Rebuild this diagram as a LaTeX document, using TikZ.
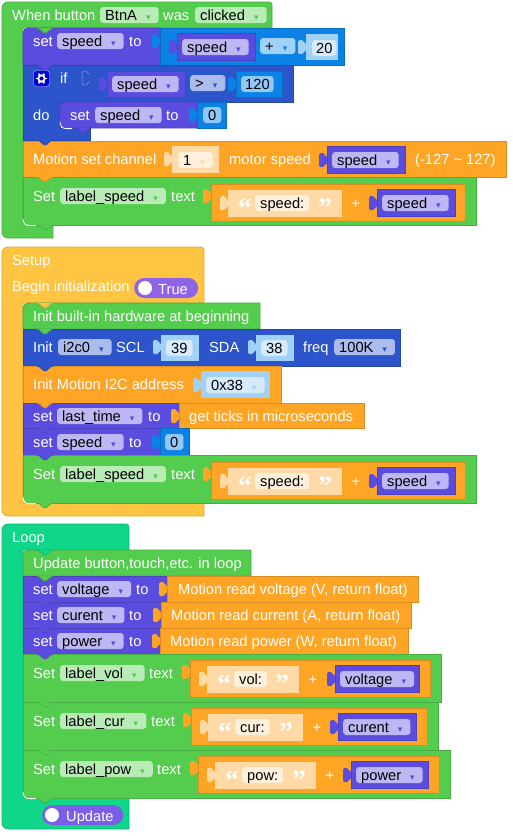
\documentclass[tikz,border=0pt]{standalone}
\usepackage{fontspec}
\setmainfont{Liberation Sans}
\newfontfamily\ddfont{DejaVu Sans}
\newfontfamily\qtfont{Liberation Serif}
\usepackage{tikz}
\definecolor{cgreen}{HTML}{54CC4E}
\definecolor{cpurple}{HTML}{5B4CE0}
\definecolor{cnavy}{HTML}{2C55CC}
\definecolor{cblue}{HTML}{0A82E6}
\definecolor{corange}{HTML}{FFA526}
\definecolor{cyellow}{HTML}{FFC542}
\definecolor{cteal}{HTML}{10D68A}
\definecolor{ctrue}{HTML}{8F63E5}
\definecolor{cupd}{HTML}{7B5EE8}
\definecolor{lgreen}{HTML}{B9EBB7}
\definecolor{lpurple}{HTML}{BDB7F3}
\definecolor{lnavy}{HTML}{ABBBEB}
\definecolor{lblue}{HTML}{A0D2F8}
\definecolor{pblue}{HTML}{D6EAFC}
\definecolor{mblue}{HTML}{90C8F8}
\definecolor{lorange}{HTML}{FFD9A6}
\definecolor{porange}{HTML}{FFF0DC}
% dropdown arrow inside a field
\newcommand{\dda}[1]{\kern9pt{\color{#1}\ddfont\fontsize{9}{9}\selectfont\symbol{"25BE}}\kern3pt}
% left tab of a value block: x, y, colour
\newcommand{\ptab}[3]{\fill[#3,rounded corners=1.5pt] (#1+.5,#2-4) -- (#1-2.5,#2-4) -- (#1-2.5,#2-7) -- (#1-8,#2-7) -- (#1-8,#2+7) -- (#1-2.5,#2+7) -- (#1-2.5,#2+4) -- (#1+.5,#2+4) -- cycle;}
% bump under a stack block: x centre, y, colour
\newcommand{\ntch}[3]{\draw[fill=#3,draw=#3!85!black,line width=.6pt] (#1-8,#2) .. controls (#1-4,#2+.5) and (#1-3,#2+5) .. (#1,#2+5) .. controls (#1+3,#2+5) and (#1+4,#2+.5) .. (#1+8,#2);}
% C shaped hat block: colour, x1, y0, y1, y2, x2, y3
\newcommand{\hatblk}[7]{\draw[blk=#1] (10,#7) [rounded corners=6pt] -- (2,#7) -- (2,#3) [rounded corners=3pt] -- (#2,#3) [sharp corners] -- (#2,#4) -- (23,#4) -- (23,#5) -- (#6,#5) -- (#6,#7) -- cycle;}
% stack block with a round top left corner: colour, x2, y1, y2
\newcommand{\topblk}[4]{\draw[blk=#1] (23,#4) [rounded corners=5pt] -- (23,#3) [sharp corners] -- (#2,#3) -- (#2,#4) -- cycle;}
% green Set row: y, x right, label, x of the word text
\newcommand{\setrow}[4]{
  \draw[blk=cgreen] (23,#1) rectangle (#2,#1+48);
  \node[lbl] (st#1) at (33,#1+19) {Set};
  \node[fld=lgreen] (lb#1) at (60,#1+19) {#3\dda{cgreen}};
  \node[lbl] (tx#1) at (#4,#1+19) {text};
}
% round lower left corner of the last row in a stack: y, hat colour
\newcommand{\rowend}[2]{
  \fill[#2] (22.6,#1-6) -- (22.6,#1+.5) -- (29,#1+.5) .. controls (25.5,#1+.5) and (22.6,#1-2.5) .. cycle;
  \draw[white,line width=.8pt] (23,#1-6) .. controls (23,#1-2) and (25.5,#1+.6) .. (29,#1+.6) -- (36,#1+.6);
}
% joined text value: y, orange x1, x2, light x2, field x, string, purple x1, x2, variable
\newcommand{\strjoin}[9]{
  \ptab{#2}{#1-7}{corange}
  \draw[blk=corange] (#2,#1-18.5) rectangle (#3,#1+18.5);
  \ptab{#2+17}{#1}{lorange}
  \fill[lorange] (#2+17,#1-13.5) rectangle (#4,#1+13.5);
  \node[qt] (ql#1) at (#2+27,#1) {“};
  \node[fld=porange] (sv#1) at (#5,#1) {#6};
  \node[qt] (qr#1) at (#4-24,#1) {”};
  \node[lblc] (pl#1) at (#4+14,#1) {+};
  \ptab{#7}{#1}{cpurple}
  \draw[blk=cpurple] (#7,#1-13.5) rectangle (#8,#1+13.5);
  \node[fld=lpurple] (vr#1) at (#7+5,#1) {#9\dda{cpurple}};
}
\begin{document}
\begin{tikzpicture}[
  x=1pt,y=-1pt,
  every node/.style={font=\fontsize{14.67}{16}\selectfont},
  blk/.style={fill=#1,draw=#1!85!black,line width=.7pt},
  lbl/.style={anchor=base west,inner sep=0pt,text=white,yshift=-5pt},
  lblc/.style={anchor=base,inner sep=0pt,text=white,yshift=-5pt},
  fld/.style={anchor=base west,fill=#1,rounded corners=3pt,text=black,inner xsep=5pt,inner ysep=0pt,text height=13pt,text depth=3pt,yshift=-5pt},
  qt/.style={anchor=base west,inner sep=0pt,text=white,yshift=-14pt,font=\qtfont\bfseries\fontsize{28}{28}\selectfont},
  pill/.style={rounded corners=10pt,minimum height=20pt,inner sep=0pt,anchor=west}
]
  \useasboundingbox (0,0) rectangle (512,836);
  % When button
  \hatblk{cgreen}{272}{2}{28}{226}{53}{238}
  \node[lbl] (when) at (12,15) {When button};
  \node[fld=lgreen] (btn) at (100,15) {BtnA\dda{cgreen}};
  \node[lbl] (was) at (163,15) {was};
  \node[fld=lgreen] (clk) at (195,15) {clicked\dda{cgreen}};
  \topblk{cpurple}{160}{28}{65}
  \ntch{45}{28}{cgreen}
  \node[lbl] (set1) at (33,41) {set};
  \node[fld=lpurple] (spd1) at (57,41) {speed\dda{cpurple}};
  \node[lbl] (to1) at (129,41) {to};
  \ptab{160}{41}{cblue}
  \draw[blk=cblue] (160,28) rectangle (344,65);
  \ptab{177}{47}{cpurple}
  \draw[blk=cpurple] (177,33) rectangle (255,60);
  \node[fld=lpurple] (spd2) at (182,47) {speed\dda{cpurple}};
  \node[fld=lblue] (add) at (260,46) {+\dda{cblue}};
  \ptab{306}{47}{lblue}
  \fill[lblue] (306,34) rectangle (338,60);
  \node[fld=pblue,inner xsep=4pt] (num20) at (312,48) {20};
  % if
  \draw[blk=cnavy] (23,65) -- (293,65) -- (293,102) -- (60,102) -- (60,128) -- (90,128) -- (90,140) -- (23,140) -- cycle;
  \ntch{45}{65}{cpurple}
  \node[rounded corners=3pt,fill=blue!85!black,draw=white!80!blue,minimum size=16pt,inner sep=0pt] (gear) at (41.5,78.5) {};
  \draw[white,line width=1.8pt] (gear.center) circle (3.2);
  \foreach \a in {0,60,...,300}
    \draw[white,line width=1.8pt] ([shift={(\a:3)}]gear.center) -- ([shift={(\a:5.5)}]gear.center);
  \node[lbl] (iflb) at (60,78) {if};
  \draw[fill=cnavy,draw=white!40!cnavy,rounded corners=1.5pt,line width=.5pt] (90,74) -- (87.5,74) -- (87.5,71) -- (82,71) -- (82,85) -- (87.5,85) -- (87.5,82) -- (90,82);
  \ptab{107}{84}{cpurple}
  \draw[blk=cpurple] (107,71) rectangle (185,97);
  \node[fld=lpurple] (spd3) at (112,84) {speed\dda{cpurple}};
  \node[fld=lnavy] (gt) at (190,83) {>\dda{cnavy}};
  \ptab{236}{84}{cblue}
  \draw[blk=cblue] (236,71) rectangle (282,97);
  \node[fld=mblue,inner xsep=4pt] (num120) at (241,84) {120};
  \node[lbl] (dolb) at (33,115) {do};
  \draw[blk=cpurple] (197,102) [rounded corners=5pt] -- (60,102) -- (60,128) [sharp corners] -- (197,128) -- cycle;
  \draw[white,line width=.8pt] (60,122) .. controls (60,126) and (62.5,128.6) .. (66,128.6) -- (72,128.6);
  \node[lbl] (set2) at (70,115) {set};
  \node[fld=lpurple] (spd4) at (95,115) {speed\dda{cpurple}};
  \node[lbl] (to2) at (166,115) {to};
  \ptab{197}{115}{cblue}
  \draw[blk=cblue] (197,102) rectangle (226,128);
  \node[fld=mblue,inner xsep=5pt] (num0) at (203,115) {0};
  % motion channel
  \draw[blk=corange] (23,141) rectangle (506,177);
  \ntch{45}{140}{cnavy}
  \ntch{83}{128}{cpurple}
  \node[lbl] (mot) at (33,159) {Motion set channel};
  \ptab{172}{159}{lorange}
  \fill[lorange] (172,146) rectangle (219,173);
  \node[fld=porange] (chn) at (178,160) {1\dda{lorange}};
  \node[lbl] (msp) at (229,159) {motor speed};
  \ptab{327}{160}{cpurple}
  \draw[blk=cpurple] (327,146) rectangle (405,173);
  \node[fld=lpurple] (spd5) at (332,160) {speed\dda{cpurple}};
  \node[lbl] (rng) at (415,159) {(-127 \textasciitilde{} 127)};
  \setrow{177}{476}{label\_speed}{171}
  \ntch{45}{177}{corange}
  \strjoin{203}{211}{465}{342}{255}{speed:}{377}{455}{speed}
  \rowend{225}{cgreen}
  \ntch{45}{225}{cgreen}
  % Setup
  \hatblk{cyellow}{204}{247}{303}{503}{204}{516}
  \node[lbl] (setup) at (12,260) {Setup};
  \node[lbl] (begin) at (12,286) {Begin initialization};
  \node[pill,fill=ctrue,minimum width=64pt] (tgl) at (134,288) {};
  \fill[white] (145,288) circle (7);
  \node[lbl] (tru) at (158,289) {True};
  \topblk{cgreen}{260}{303}{329}
  \ntch{45}{303}{cyellow}
  \node[lbl] (ihw) at (33,316) {Init built-in hardware at beginning};
  \draw[blk=cnavy] (23,329) rectangle (400,366);
  \ntch{45}{329}{cgreen}
  \node[lbl] (ini) at (33,347) {Init};
  \node[fld=lnavy] (i2c) at (58,347) {i2c0\dda{cnavy}};
  \node[lbl] (scl) at (116,347) {SCL};
  \ptab{161}{347}{lblue}
  \fill[lblue] (161,335) rectangle (199,361);
  \node[fld=pblue] (n39) at (166,348) {39};
  \node[lbl] (sda) at (209,347) {SDA};
  \ptab{256}{347}{lblue}
  \fill[lblue] (256,335) rectangle (294,361);
  \node[fld=pblue] (n38) at (261,348) {38};
  \node[lbl] (frq) at (303,347) {freq};
  \node[fld=lnavy] (fq) at (334,347) {100K\dda{cnavy}};
  \draw[blk=corange] (23,366) rectangle (281,403);
  \ntch{45}{366}{cnavy}
  \node[lbl] (imo) at (33,384) {Init Motion I2C address};
  \ptab{201}{385}{lblue}
  \fill[lblue] (201,371) rectangle (270,398);
  \node[fld=pblue] (adr) at (206,385) {0x38\dda{lblue}};
  \draw[blk=cpurple] (23,403) rectangle (179,428);
  \ntch{45}{403}{corange}
  \node[lbl] (set3) at (33,416) {set};
  \node[fld=lpurple] (lst) at (57,416) {last\_time\dda{cpurple}};
  \node[lbl] (to3) at (148,416) {to};
  \ptab{179}{416}{corange}
  \draw[blk=corange] (179,403) rectangle (364,428);
  \node[lbl] (tck) at (189,416) {get ticks in microseconds};
  \draw[blk=cpurple] (23,428) rectangle (160,455);
  \ntch{45}{428}{cpurple}
  \node[lbl] (set4) at (33,442) {set};
  \node[fld=lpurple] (spd6) at (57,442) {speed\dda{cpurple}};
  \node[lbl] (to4) at (129,442) {to};
  \ptab{160}{442}{cblue}
  \draw[blk=cblue] (160,428) rectangle (189,455);
  \node[fld=mblue] (n0) at (165,442) {0};
  \setrow{455}{476}{label\_speed}{171}
  \ntch{45}{455}{cpurple}
  \strjoin{481}{211}{465}{342}{255}{speed:}{377}{455}{speed}
  \rowend{503}{cyellow}
  \ntch{45}{503}{cgreen}
  % Loop
  \hatblk{cteal}{129}{524}{550}{798}{129}{829}
  \node[lbl] (loop) at (12,537) {Loop};
  \topblk{cgreen}{251}{550}{576}
  \ntch{45}{550}{cteal}
  \node[lbl] (upd) at (33,563) {Update button,touch,etc. in loop};
  \draw[blk=cpurple] (23,576) rectangle (167,602);
  \ntch{45}{576}{cgreen}
  \node[lbl] (set5) at (33,589) {set};
  \node[fld=lpurple] (vlt) at (57,589) {voltage\dda{cpurple}};
  \node[lbl] (to5) at (136,589) {to};
  \ptab{167}{589}{corange}
  \draw[blk=corange] (167,576) rectangle (418,602);
  \node[lbl] (rdv) at (178,589) {Motion read voltage (V, return float)};
  \draw[blk=cpurple] (23,602) rectangle (161,628);
  \ntch{45}{602}{cpurple}
  \node[lbl] (set6) at (33,615) {set};
  \node[fld=lpurple] (cur) at (57,615) {curent\dda{cpurple}};
  \node[lbl] (to6) at (129,615) {to};
  \ptab{161}{615}{corange}
  \draw[blk=corange] (161,602) rectangle (411,628);
  \node[lbl] (rdc) at (171,615) {Motion read current (A, return float)};
  \draw[blk=cpurple] (23,628) rectangle (160,654);
  \ntch{45}{628}{cpurple}
  \node[lbl] (set7) at (33,641) {set};
  \node[fld=lpurple] (pow) at (57,641) {power\dda{cpurple}};
  \node[lbl] (to7) at (129,641) {to};
  \ptab{160}{641}{corange}
  \draw[blk=corange] (160,628) rectangle (408,654);
  \node[lbl] (rdp) at (170,641) {Motion read power (W, return float)};
  \setrow{654}{441}{label\_vol}{149}
  \ntch{45}{654}{cpurple}
  \strjoin{679}{190}{430}{299}{234}{vol:}{335}{419}{voltage}
  \setrow{702}{438}{label\_cur}{151}
  \ntch{45}{702}{cgreen}
  \strjoin{727}{191}{427}{303}{235}{cur:}{338}{416}{curent}
  \setrow{750}{450}{label\_pow}{157}
  \ntch{45}{750}{cgreen}
  \strjoin{775}{198}{439}{316}{242}{pow:}{351}{428}{power}
  \rowend{798}{cteal}
  \ntch{45}{798}{cgreen}
  \node[pill,fill=cupd,minimum width=81pt] (updp) at (42,815) {};
  \fill[white] (52,815) circle (7);
  \node[lbl] (updl) at (66,816) {Update};
\end{tikzpicture}
\end{document}
